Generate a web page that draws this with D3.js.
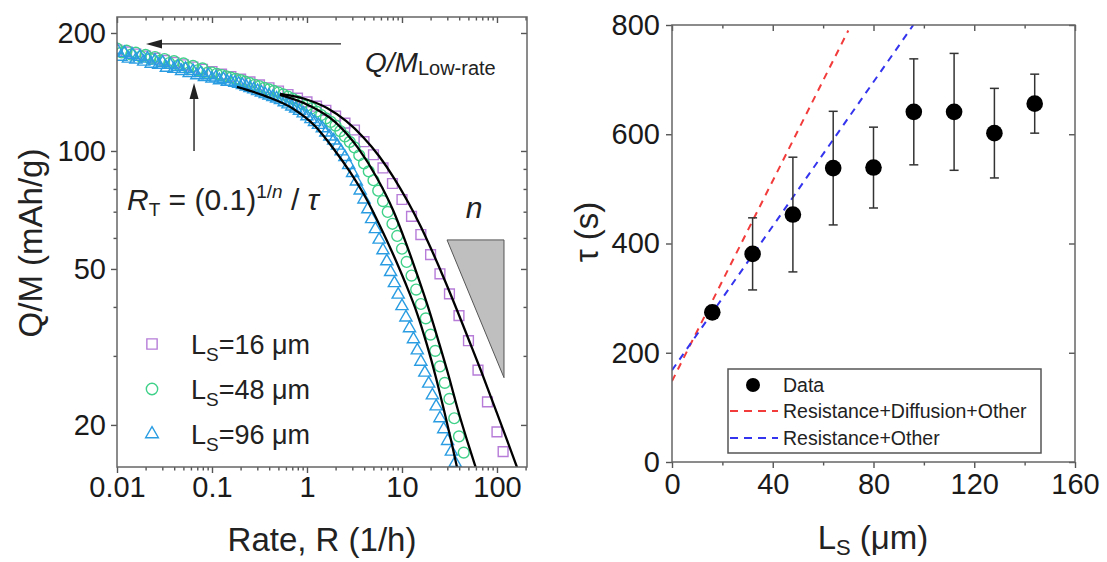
<!DOCTYPE html>
<html>
<head>
<meta charset="utf-8">
<script src="https://cdn.jsdelivr.net/npm/d3@7"></script>
<style>
  html, body { margin: 0; padding: 0; background: #ffffff; }
  svg { display: block; }
</style>
</head>
<body>
<svg id="chart" width="1107" height="562"></svg>
<script>
// ---------- Left panel: specific capacity vs. rate (log-log) ----------
const rateTicks = [0.01, 0.1, 1, 10, 100];
const rateTickLabels = ["0.01", "0.1", "1", "10", "100"];
const capTicks = [20, 50, 100, 200];
const capTickLabels = ["20", "50", "100", "200"];

// L_S = 96 µm (triangles)
const rateBlue = [0.0100,0.0110,0.0120,0.0132,0.0145,0.0158,0.0174,0.0191,0.0209,0.0229,0.0251,0.0275,0.0302,0.0331,0.0363,0.0398,0.0437,0.0479,0.0525,0.0575,0.0631,0.0692,0.0759,0.0832,0.0912,
  0.100,0.110,0.120,0.132,0.145,0.158,0.174,0.191,0.209,0.229,0.251,0.275,0.302,0.331,0.363,0.398,0.437,0.479,0.525,0.575,0.631,0.692,0.759,0.832,0.912,
  1.00,1.10,1.20,1.32,1.45,1.58,1.74,1.91,2.09,2.29,2.51,2.75,3.02,3.31,3.63,3.98,4.37,4.79,5.25,5.75,6.31,6.92,7.59,8.32,9.12,
  10.0,11.0,12.0,13.2,14.5,15.8,17.4,19.1,20.9,22.9,25.1,27.5,30.2,33.1,36.3];
const capBlue = [181,174,178,172,176,171,174,169,172,167,170,166,168,163,166,162,164,160,162,158,
  160,156,158,154.5,156,153,154,151.5,152.5,150.2,150.1,149.3,148.5,
  147.4,146.1,144.8,143.6,142.3,141.0,139.7,138.5,137.3,136.1,
  134.8,133.1,131.5,129.9,128.3,126.7,124.7,122.6,120.6,118.6,
  116.6,114.3,111.5,108.9,106.4,103.2,99.8,96.5,92.1,87.9,
  83.6,79.3,75.2,71.0,67.0,63.2,59.4,55.8,52.3,49.1,
  46.0,43.0,40.2,37.6,35.3,33.1,31.0,29.0,27.2,25.5,
  23.8,22.3,20.8,19.5,18.2,17.1,16.0];

// L_S = 48 µm (circles)
const rateGreen = [0.0100,0.0112,0.0126,0.0141,0.0158,0.0178,0.0200,0.0224,0.0251,0.0282,0.0316,0.0355,0.0398,0.0447,0.0501,0.0562,0.0631,0.0708,0.0794,0.0891,
  0.100,0.112,0.126,0.141,0.158,0.178,0.200,0.224,0.251,0.282,0.316,0.355,0.398,0.447,0.501,0.562,0.631,0.708,0.794,0.891,
  1.00,1.12,1.26,1.41,1.58,1.78,2.00,2.24,2.51,2.82,3.16,3.55,3.98,4.47,5.01,5.62,6.31,7.08,7.94,8.91,
  10.0,11.2,12.6,14.1,15.8,17.8,20.0,22.4,25.1,28.2,31.6,35.5,39.8,44.7];
const capGreen = [182.5,178.4,180.3,176.1,178.1,174.0,175.9,171.8,173.7,169.7,171.6,167.6,169.5,165.5,167.3,163.1,164.8,160.6,162.4,158.2,
  158.5,157.4,156.2,155.1,153.9,152.8,151.6,150.2,148.9,147.5,
  146.2,144.9,143.6,142.3,141.0,139.4,137.6,135.8,134.1,132.3,
  130.6,128.5,126.0,123.5,121.1,118.6,116.1,112.4,108.9,105.5,
  102.1,97.5,93.0,88.7,84.2,79.2,74.5,69.9,65.2,60.7,
  56.3,52.1,48.1,44.3,40.7,37.4,34.0,30.9,28.2,25.6,
  23.3,20.8,18.7,17.0];

// L_S = 16 µm (squares)
const ratePurple = [0.0100,0.0126,0.0158,0.0200,0.0251,0.0316,0.0398,0.0501,0.0631,0.0794,
  0.100,0.126,0.158,0.200,0.251,0.316,0.398,0.501,0.631,0.794,
  1.00,1.26,1.58,2.00,2.51,3.16,3.98,5.01,6.31,7.94,
  10.0,12.6,15.8,20.0,25.1,31.6,39.8,50.1,63.1,79.4,100,116];
const capPurple = [181.0,178.9,176.8,174.7,172.5,170.3,168.1,165.9,163.8,161.6,
  159.5,157.1,154.8,152.5,150.0,147.4,145.0,142.2,139.3,136.4,
  133.4,130.1,127.0,122.8,117.8,113.1,105.6,97.8,90.5,82.6,
  75.2,68.1,61.2,54.4,48.6,43.2,38.0,32.8,27.6,22.9,19.2,17.1];

// fitted curves (black)
const fitRate16 = [0.520,0.953,1.624,2.574,3.886,5.727,8.238,11.57,15.85,21.2,28.4,37.9,50.7,67.9,90.8,121.4,162.4];
const fitCap16  = [139.8,135.7,128.7,119.3,108.6,97.1,85.3,74.1,64.0,54.9,46.6,39.3,32.9,27.5,22.8,18.9,15.6];
const fitRate48 = [0.520,1.076,1.971,3.442,5.456,8.04,11.02,14.73,19.24,24.52,31.24,38.86,48.33,60.1];
const fitCap48  = [139.0,130.3,118.6,101.8,85.3,70.7,58.2,47.7,39.3,32.4,26.5,21.8,18.3,15.5];
const fitRate96 = [0.183,0.361,0.695,1.214,1.878,2.836,4.281,5.867,8.04,10.75,14.38,18.33,22.80,27.68,32.80,37.93];
const fitCap96  = [145.7,138.2,128.7,115.8,101.8,88.4,75.0,64.4,54.6,46.3,38.6,32.0,26.4,21.8,18.3,15.6];

const thicknessLegend = [16, 48, 96];

// annotation values
const qLowRate = 187.6;              // low-rate capacity level
const lowRateArrowRates = [2.28, 0.0202];
const transitionRate = 0.0647;       // R_T marker
const transitionArrowCaps = [100, 149];
const slopeTriRates = [29.8, 118.5];
const slopeTriCaps = [59.3, 26.4];

// ---------- Right panel: tau vs. thickness ----------
const thicknessTicks = [0, 40, 80, 120, 160];
const thicknessMinor = [20, 60, 100, 140];
const tauTicks = [0, 200, 400, 600, 800];
const thickness = [16, 32, 48, 64, 80, 96, 112, 128, 144];
const tau = [274, 381, 453, 538, 539, 641, 641, 602, 656];
const tauErr = [10, 66, 105, 104, 74, 97, 107, 82, 54];
const fitRDO_L = [0, 70];
const fitRDO_tau = [148, 790];
const fitRO_L = [0, 95.8];
const fitRO_tau = [168, 800];
const legendRight = ["Data", "Resistance+Diffusion+Other", "Resistance+Other"];

// ---------- drawing ----------
const FONT = '"Liberation Sans", Arial, Helvetica, sans-serif';
const svg = d3.select("#chart").attr("font-family", FONT);
const defs = svg.append("defs");

function styleAxis(sel, fontSize) {
  sel.select(".domain").remove();
  sel.selectAll(".tick line").attr("stroke", "#555").attr("stroke-width", 1.4);
  sel.selectAll(".tick text").attr("fill", "#1a1a1a")
    .attr("font-size", fontSize).attr("font-family", FONT);
}
const near = (a, b) => Math.abs(a - b) / Math.max(Math.abs(b), 1e-9) < 1e-6;

function axisPair(g, axisFn, scale, major, labels, minor, tr, pad) {
  g.append("g").attr("transform", tr)
    .call(axisFn(scale).tickValues(major)
      .tickFormat(labels ? (d, i) => labels[i] : () => "").tickSize(6).tickPadding(pad))
    .call(s => styleAxis(s, 29));
  g.append("g").attr("transform", tr)
    .call(axisFn(scale).tickValues(minor).tickFormat(() => "").tickSize(3.5))
    .call(s => styleAxis(s, 29));
}

// ===== left panel =====
const LB = { left: 117, right: 527, top: 17, bottom: 467 };
const xL = d3.scaleLog().domain([0.01, 207]).range([LB.left, LB.right]);
const yL = d3.scaleLog().domain([15.62, 219.7]).range([LB.bottom, LB.top]);
const minorRate = xL.ticks().filter(v => !rateTicks.some(t => near(v, t)));
const minorCap = yL.ticks().filter(v => !capTicks.some(t => near(v, t)));

const gL = svg.append("g");
axisPair(gL, d3.axisBottom, xL, rateTicks, rateTickLabels, minorRate, `translate(0,${LB.bottom})`, 3);
axisPair(gL, d3.axisBottom, xL, rateTicks, null, minorRate, `translate(0,${LB.top})`, 3);
axisPair(gL, d3.axisLeft, yL, capTicks, capTickLabels, minorCap, `translate(${LB.left},0)`, 5);
axisPair(gL, d3.axisLeft, yL, capTicks, null, minorCap, `translate(${LB.right},0)`, 5);

defs.append("clipPath").attr("id", "clipL").append("rect")
  .attr("x", LB.left).attr("y", LB.top)
  .attr("width", LB.right - LB.left).attr("height", LB.bottom - LB.top);
const plotL = gL.append("g").attr("clip-path", "url(#clipL)");

// slope triangle
plotL.append("path")
  .attr("d", d3.line()([
    [xL(slopeTriRates[0]), yL(slopeTriCaps[0])],
    [xL(slopeTriRates[1]), yL(slopeTriCaps[0])],
    [xL(slopeTriRates[1]), yL(slopeTriCaps[1])]]) + "Z")
  .attr("fill", "#bfbfbf").attr("stroke", "#555").attr("stroke-width", 1);

const seriesL = [
  { rate: ratePurple, cap: capPurple, color: "#b67cd8", type: d3.symbolSquare, size: 96 },
  { rate: rateGreen, cap: capGreen, color: "#3fd189", type: d3.symbolCircle, size: 92 },
  { rate: rateBlue, cap: capBlue, color: "#2a9de2", type: d3.symbolTriangle, size: 64 }
];
seriesL.forEach(s => {
  const sym = d3.symbol().type(s.type).size(s.size);
  plotL.append("g").selectAll("path")
    .data(s.rate.map((r, i) => [r, s.cap[i]]))
    .join("path")
    .attr("d", sym)
    .attr("transform", d => `translate(${xL(d[0])},${yL(d[1])})`)
    .attr("fill", "none").attr("stroke", s.color).attr("stroke-width", 1.4);
});

const fitLine = d3.line().x(d => xL(d[0])).y(d => yL(d[1])).curve(d3.curveMonotoneX);
[[fitRate16, fitCap16], [fitRate48, fitCap48], [fitRate96, fitCap96]].forEach(([r, q]) => {
  plotL.append("path").attr("d", fitLine(r.map((v, i) => [v, q[i]])))
    .attr("fill", "none").attr("stroke", "#000").attr("stroke-width", 2.3);
});

gL.append("rect").attr("x", LB.left).attr("y", LB.top)
  .attr("width", LB.right - LB.left).attr("height", LB.bottom - LB.top)
  .attr("fill", "none").attr("stroke", "#666").attr("stroke-width", 1.5);

// arrows
const ann = gL.append("g").attr("fill", "#222").attr("stroke", "#222");
{
  const y = yL(qLowRate), x0 = xL(lowRateArrowRates[0]), x1 = xL(lowRateArrowRates[1]);
  ann.append("line").attr("x1", x0).attr("x2", x1 + 12).attr("y1", y).attr("y2", y).attr("stroke-width", 1.4);
  ann.append("path").attr("stroke", "none")
    .attr("d", `M${x1},${y}L${x1 + 16},${y - 4.5}L${x1 + 16},${y + 4.5}Z`);
  const xv = xL(transitionRate), yv0 = yL(transitionArrowCaps[0]), yv1 = yL(transitionArrowCaps[1]);
  ann.append("line").attr("x1", xv).attr("x2", xv).attr("y1", yv0).attr("y2", yv1 + 12).attr("stroke-width", 1.4);
  ann.append("path").attr("stroke", "none")
    .attr("d", `M${xv},${yv1}L${xv - 4.5},${yv1 + 16}L${xv + 4.5},${yv1 + 16}Z`);
}

// Q/M low-rate label
{
  const t = gL.append("text").attr("x", 365).attr("y", 72).attr("font-size", 28).attr("fill", "#222");
  t.append("tspan").attr("font-style", "italic").text("Q/M");
  t.append("tspan").attr("font-size", 20).attr("dy", 3).text("Low-rate");
}
// R_T formula
{
  const t = gL.append("text").attr("x", 127).attr("y", 210).attr("font-size", 30).attr("fill", "#222");
  t.append("tspan").attr("font-style", "italic").text("R");
  t.append("tspan").attr("font-size", 19).attr("dy", 6).text("T");
  t.append("tspan").attr("dy", -6).text(" = (0.1)");
  t.append("tspan").attr("font-size", 19).attr("dy", -12).text("1/");
  t.append("tspan").attr("font-size", 19).attr("font-style", "italic").text("n");
  t.append("tspan").attr("dy", 12).text(" / ");
  t.append("tspan").attr("font-style", "italic").text("τ");
}
gL.append("text").attr("x", 474).attr("y", 218).attr("text-anchor", "middle")
  .attr("font-size", 30).attr("font-style", "italic").attr("fill", "#222").text("n");

// legend (left)
{
  const rowsY = [344, 389, 434];
  seriesL.forEach((s, i) => {
    const sym = d3.symbol().type(s.type).size(s.size * 1.1);
    gL.append("path").attr("d", sym).attr("transform", `translate(152,${rowsY[i]})`)
      .attr("fill", "none").attr("stroke", s.color).attr("stroke-width", 1.4);
    const t = gL.append("text").attr("x", 191).attr("y", rowsY[i] + 10)
      .attr("font-size", 27).attr("fill", "#222");
    t.append("tspan").text("L");
    t.append("tspan").attr("font-size", 19).attr("dy", 7).text("S");
    t.append("tspan").attr("dy", -7).text(`=${thicknessLegend[i]} μm`);
  });
}

// axis titles (left)
gL.append("text").attr("x", 322).attr("y", 551).attr("text-anchor", "middle")
  .attr("font-size", 33).attr("fill", "#222").text("Rate, R (1/h)");
gL.append("text").attr("transform", "translate(42,243) rotate(-90)").attr("text-anchor", "middle")
  .attr("font-size", 33).attr("fill", "#222").text("Q/M (mAh/g)");

// ===== right panel =====
const RB = { left: 672, right: 1075, top: 25, bottom: 462 };
const xR = d3.scaleLinear().domain([0, 160]).range([RB.left, RB.right]);
const yR = d3.scaleLinear().domain([0, 800]).range([RB.bottom, RB.top]);
const gR = svg.append("g");

axisPair(gR, d3.axisBottom, xR, thicknessTicks, thicknessTicks.map(String), thicknessMinor, `translate(0,${RB.bottom})`, 5);
axisPair(gR, d3.axisBottom, xR, thicknessTicks, null, thicknessMinor, `translate(0,${RB.top})`, 5);
axisPair(gR, d3.axisLeft, yR, tauTicks, tauTicks.map(String), [], `translate(${RB.left},0)`, 6);
axisPair(gR, d3.axisLeft, yR, tauTicks, null, [], `translate(${RB.right},0)`, 6);

defs.append("clipPath").attr("id", "clipR").append("rect")
  .attr("x", RB.left).attr("y", RB.top)
  .attr("width", RB.right - RB.left).attr("height", RB.bottom - RB.top);
const plotR = gR.append("g").attr("clip-path", "url(#clipR)");

const fitsR = [
  { L: fitRDO_L, t: fitRDO_tau, color: "#f23b3b" },
  { L: fitRO_L, t: fitRO_tau, color: "#3434ee" }
];
const lineR = d3.line().x(d => xR(d[0])).y(d => yR(d[1]));
fitsR.forEach(f => {
  plotR.append("path").attr("d", lineR(f.L.map((v, i) => [v, f.t[i]])))
    .attr("fill", "none").attr("stroke", f.color).attr("stroke-width", 2)
    .attr("stroke-dasharray", "7,6");
});

const pts = thickness.map((L, i) => ({ L, t: tau[i], e: tauErr[i] }));
const eb = plotR.append("g").attr("stroke", "#333").attr("stroke-width", 1.5);
pts.forEach(p => {
  const x = xR(p.L), y0 = yR(p.t - p.e), y1 = yR(p.t + p.e);
  eb.append("line").attr("x1", x).attr("x2", x).attr("y1", y0).attr("y2", y1);
  eb.append("line").attr("x1", x - 4.5).attr("x2", x + 4.5).attr("y1", y0).attr("y2", y0);
  eb.append("line").attr("x1", x - 4.5).attr("x2", x + 4.5).attr("y1", y1).attr("y2", y1);
});
plotR.append("g").selectAll("circle").data(pts).join("circle")
  .attr("cx", d => xR(d.L)).attr("cy", d => yR(d.t)).attr("r", 8.3).attr("fill", "#000");

gR.append("rect").attr("x", RB.left).attr("y", RB.top)
  .attr("width", RB.right - RB.left).attr("height", RB.bottom - RB.top)
  .attr("fill", "none").attr("stroke", "#666").attr("stroke-width", 1.5);

// legend (right)
{
  const lg = gR.append("g");
  lg.append("rect").attr("x", 728).attr("y", 369).attr("width", 313).attr("height", 84)
    .attr("fill", "#fff").attr("stroke", "#555").attr("stroke-width", 1.5);
  const rowsY = [385, 411, 438];
  lg.append("circle").attr("cx", 753).attr("cy", rowsY[0]).attr("r", 7).attr("fill", "#000");
  fitsR.forEach((f, i) => {
    lg.append("line").attr("x1", 730).attr("x2", 778).attr("y1", rowsY[i + 1]).attr("y2", rowsY[i + 1])
      .attr("stroke", f.color).attr("stroke-width", 2).attr("stroke-dasharray", "8,6");
  });
  legendRight.forEach((s, i) => {
    lg.append("text").attr("x", 783).attr("y", rowsY[i] + 7).attr("font-size", 19.5)
      .attr("fill", "#222").text(s);
  });
}

// axis titles (right)
{
  const t = gR.append("text").attr("x", 873).attr("y", 549).attr("text-anchor", "middle")
    .attr("font-size", 33).attr("fill", "#222");
  t.append("tspan").text("L");
  t.append("tspan").attr("font-size", 22).attr("dy", 6).text("S");
  t.append("tspan").attr("dy", -6).text(" (μm)");
}
gR.append("text").attr("transform", "translate(598,232) rotate(-90)").attr("text-anchor", "middle")
  .attr("font-size", 33).attr("fill", "#222").text("τ (s)");
</script>
</body>
</html>
